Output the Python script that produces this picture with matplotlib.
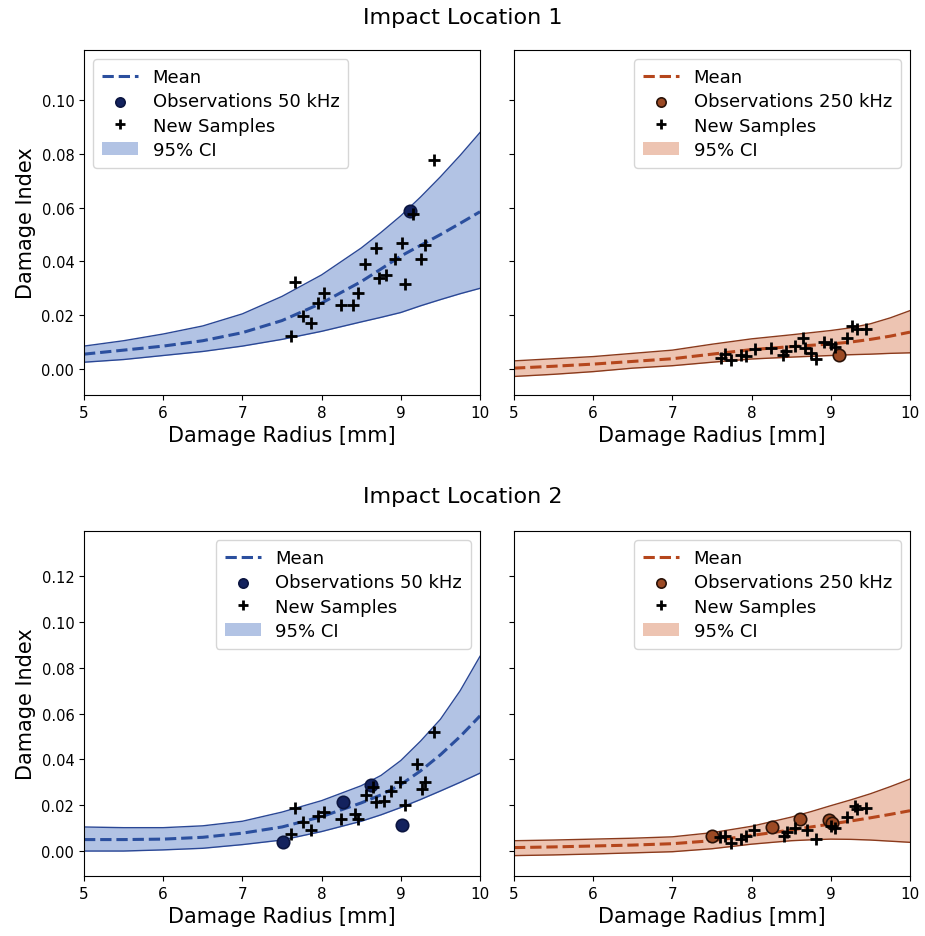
import numpy as np
import matplotlib
matplotlib.use('Agg')
import matplotlib.pyplot as plt

# common grid for the GP curves
radius_grid = [5.0, 5.5, 6.0, 6.5, 7.0, 7.5, 8.0, 8.5, 8.75, 9.0, 9.25, 9.5, 9.75, 10.0]

# impact location 1, 50 kHz
loc1_50_mean = [0.0055, 0.0070, 0.0085, 0.0105, 0.0135, 0.0180, 0.0245, 0.0325, 0.0372, 0.0420, 0.0460, 0.0500, 0.0542, 0.0585]
loc1_50_upper = [0.0085, 0.0105, 0.0130, 0.0160, 0.0205, 0.0270, 0.0350, 0.0450, 0.0508, 0.0570, 0.0640, 0.0715, 0.0795, 0.0880]
loc1_50_lower = [0.0025, 0.0035, 0.0050, 0.0065, 0.0085, 0.0110, 0.0140, 0.0175, 0.0192, 0.0210, 0.0235, 0.0258, 0.0280, 0.0300]
loc1_50_obs_x = [9.11]
loc1_50_obs_y = [0.0588]
loc1_50_new_x = [7.61, 7.66, 7.76, 7.87, 7.95, 8.03, 8.25, 8.40, 8.46, 8.55,
                 8.69, 8.72, 8.81, 8.93, 9.01, 9.05, 9.15, 9.25, 9.30, 9.42]
loc1_50_new_y = [0.0122, 0.0325, 0.0196, 0.0171, 0.0245, 0.0282, 0.0238, 0.0238, 0.0282, 0.0390,
                 0.0450, 0.0340, 0.0348, 0.0410, 0.0470, 0.0317, 0.0575, 0.0410, 0.0460, 0.0778]

# impact location 1, 250 kHz
loc1_250_mean = [0.0003, 0.0010, 0.0018, 0.0028, 0.0038, 0.0055, 0.0072, 0.0083, 0.0088, 0.0093, 0.0100, 0.0110, 0.0122, 0.0137]
loc1_250_upper = [0.0030, 0.0038, 0.0046, 0.0058, 0.0070, 0.0092, 0.0112, 0.0127, 0.0135, 0.0143, 0.0153, 0.0168, 0.0190, 0.0217]
loc1_250_lower = [-0.0028, -0.0020, -0.0010, 0.0003, 0.0012, 0.0025, 0.0037, 0.0044, 0.0047, 0.0050, 0.0053, 0.0055, 0.0058, 0.0060]
loc1_250_obs_x = [9.10]
loc1_250_obs_y = [0.0052]
loc1_250_new_x = [7.61, 7.66, 7.74, 7.86, 7.93, 8.04, 8.25, 8.40, 8.44, 8.55, 8.65,
                  8.68, 8.75, 8.81, 8.91, 9.00, 9.05, 9.21, 9.27, 9.33, 9.44]
loc1_250_new_y = [0.0040, 0.0056, 0.0035, 0.0052, 0.0047, 0.0075, 0.0077, 0.0052, 0.0065, 0.0084, 0.0114,
                  0.0077, 0.0060, 0.0037, 0.0102, 0.0093, 0.0081, 0.0114, 0.0159, 0.0149, 0.0149]

# impact location 2, 50 kHz
loc2_50_mean = [0.0050, 0.0050, 0.0052, 0.0060, 0.0078, 0.0105, 0.0150, 0.0210, 0.0245, 0.0290, 0.0350, 0.0420, 0.0500, 0.0590]
loc2_50_upper = [0.0105, 0.0102, 0.0102, 0.0110, 0.0130, 0.0170, 0.0220, 0.0285, 0.0330, 0.0395, 0.0480, 0.0575, 0.0700, 0.0850]
loc2_50_lower = [0.0000, 0.0000, 0.0005, 0.0012, 0.0028, 0.0048, 0.0085, 0.0130, 0.0158, 0.0190, 0.0225, 0.0262, 0.0300, 0.0340]
loc2_50_obs_x = [7.51, 8.27, 8.62, 9.01]
loc2_50_obs_y = [0.0038, 0.0213, 0.0290, 0.0115]
loc2_50_new_x = [7.61, 7.66, 7.76, 7.87, 7.95, 8.03, 8.25, 8.42, 8.46, 8.56,
                 8.65, 8.69, 8.79, 8.88, 8.99, 9.05, 9.20, 9.27, 9.31, 9.42]
loc2_50_new_y = [0.0074, 0.0190, 0.0125, 0.0093, 0.0154, 0.0172, 0.0140, 0.0162, 0.0140, 0.0245,
                 0.0280, 0.0215, 0.0220, 0.0263, 0.0300, 0.0200, 0.0380, 0.0270, 0.0300, 0.0520]

# impact location 2, 250 kHz
loc2_250_mean = [0.0015, 0.0018, 0.0022, 0.0026, 0.0032, 0.0045, 0.0068, 0.0092, 0.0105, 0.0118, 0.0131, 0.0145, 0.0160, 0.0176]
loc2_250_upper = [0.0045, 0.0048, 0.0052, 0.0056, 0.0062, 0.0080, 0.0108, 0.0148, 0.0172, 0.0198, 0.0223, 0.0250, 0.0281, 0.0314]
loc2_250_lower = [-0.0020, -0.0017, -0.0013, -0.0008, -0.0003, 0.0010, 0.0030, 0.0045, 0.0049, 0.0052, 0.0051, 0.0048, 0.0043, 0.0038]
loc2_250_obs_x = [7.50, 8.26, 8.61, 8.98, 9.02]
loc2_250_obs_y = [0.0067, 0.0103, 0.0140, 0.0137, 0.0122]
loc2_250_new_x = [7.60, 7.66, 7.74, 7.86, 7.93, 8.03, 8.41, 8.45, 8.55, 8.70,
                  8.81, 9.00, 9.05, 9.21, 9.31, 9.33, 9.44]
loc2_250_new_y = [0.0060, 0.0067, 0.0035, 0.0052, 0.0064, 0.0093, 0.0067, 0.0082, 0.0099, 0.0093,
                  0.0052, 0.0110, 0.0099, 0.0147, 0.0198, 0.0183, 0.0190]

blue = dict(mean='#2b4f9e', fill='#7f9bd3', edge='#2a4795', obs='#13225e', obs_edge='#0b1540', alpha=0.6)
orange = dict(mean='#b5461c', fill='#dc8a66', edge='#8a3a1c', obs='#9c4a24', obs_edge='#2a1208', alpha=0.5)


def draw_panel(ax, mean, upper, lower, obs_x, obs_y, new_x, new_y, col, freq, loc):
    ax.fill_between(radius_grid, lower, upper, color=col['fill'], alpha=col['alpha'], lw=0, label='95% CI')
    ax.plot(radius_grid, upper, color=col['edge'], lw=1)
    ax.plot(radius_grid, lower, color=col['edge'], lw=1)
    ax.plot(radius_grid, mean, '--', color=col['mean'], lw=2.2, label='Mean')
    ax.scatter(obs_x, obs_y, s=80, color=col['obs'], edgecolors=col['obs_edge'], linewidths=1.2,
               zorder=4, label='Observations %s' % freq)
    ax.plot(new_x, new_y, '+', color='black', ms=9, mew=2, ls='none', zorder=5, label='New Samples')
    ax.set_xlim(5, 10)
    ax.set_xlabel('Damage Radius [mm]', fontsize=15)
    ax.tick_params(axis='x', labelsize=11)
    ax.tick_params(axis='y', labelsize=10.5)
    handles, labels = ax.get_legend_handles_labels()
    order = [labels.index('Mean'), labels.index('Observations %s' % freq),
             labels.index('New Samples'), labels.index('95% CI')]
    ax.legend([handles[i] for i in order], [labels[i] for i in order], loc=loc, fontsize=13,
              handlelength=2.0, borderpad=0.5, labelspacing=0.35, markerscale=0.75)


fig = plt.figure(figsize=(9.25, 9.37), dpi=100)
W, H = 925, 937


def make_ax(x0, y0, x1, y1, sharey=None):
    return fig.add_axes([x0 / W, 1 - y1 / H, (x1 - x0) / W, (y1 - y0) / H], sharey=sharey)


ax1 = make_ax(84, 51, 480, 396)
ax2 = make_ax(514, 51, 910, 396, sharey=ax1)
ax3 = make_ax(84, 532, 480, 877)
ax4 = make_ax(514, 532, 910, 877, sharey=ax3)

draw_panel(ax1, loc1_50_mean, loc1_50_upper, loc1_50_lower, loc1_50_obs_x, loc1_50_obs_y,
           loc1_50_new_x, loc1_50_new_y, blue, '50 kHz', 'upper left')
draw_panel(ax2, loc1_250_mean, loc1_250_upper, loc1_250_lower, loc1_250_obs_x, loc1_250_obs_y,
           loc1_250_new_x, loc1_250_new_y, orange, '250 kHz', 'upper right')
draw_panel(ax3, loc2_50_mean, loc2_50_upper, loc2_50_lower, loc2_50_obs_x, loc2_50_obs_y,
           loc2_50_new_x, loc2_50_new_y, blue, '50 kHz', 'upper right')
draw_panel(ax4, loc2_250_mean, loc2_250_upper, loc2_250_lower, loc2_250_obs_x, loc2_250_obs_y,
           loc2_250_new_x, loc2_250_new_y, orange, '250 kHz', 'upper right')

ax1.set_ylim(-0.0097, 0.1187)
ax1.set_yticks([0.0, 0.02, 0.04, 0.06, 0.08, 0.10])
ax3.set_ylim(-0.0109, 0.1397)
ax3.set_yticks([0.0, 0.02, 0.04, 0.06, 0.08, 0.10, 0.12])
for ax in (ax1, ax3):
    ax.yaxis.set_major_formatter(matplotlib.ticker.FormatStrFormatter('%.2f'))
    ax.set_ylabel('Damage Index', fontsize=15)
for ax in (ax2, ax4):
    ax.tick_params(axis='y', labelleft=False)

fig.text(0.5, 1 - 18 / H, 'Impact Location 1', ha='center', va='center', fontsize=16)
fig.text(0.5, 1 - 497 / H, 'Impact Location 2', ha='center', va='center', fontsize=16)

plt.savefig('out.png', dpi=100)
